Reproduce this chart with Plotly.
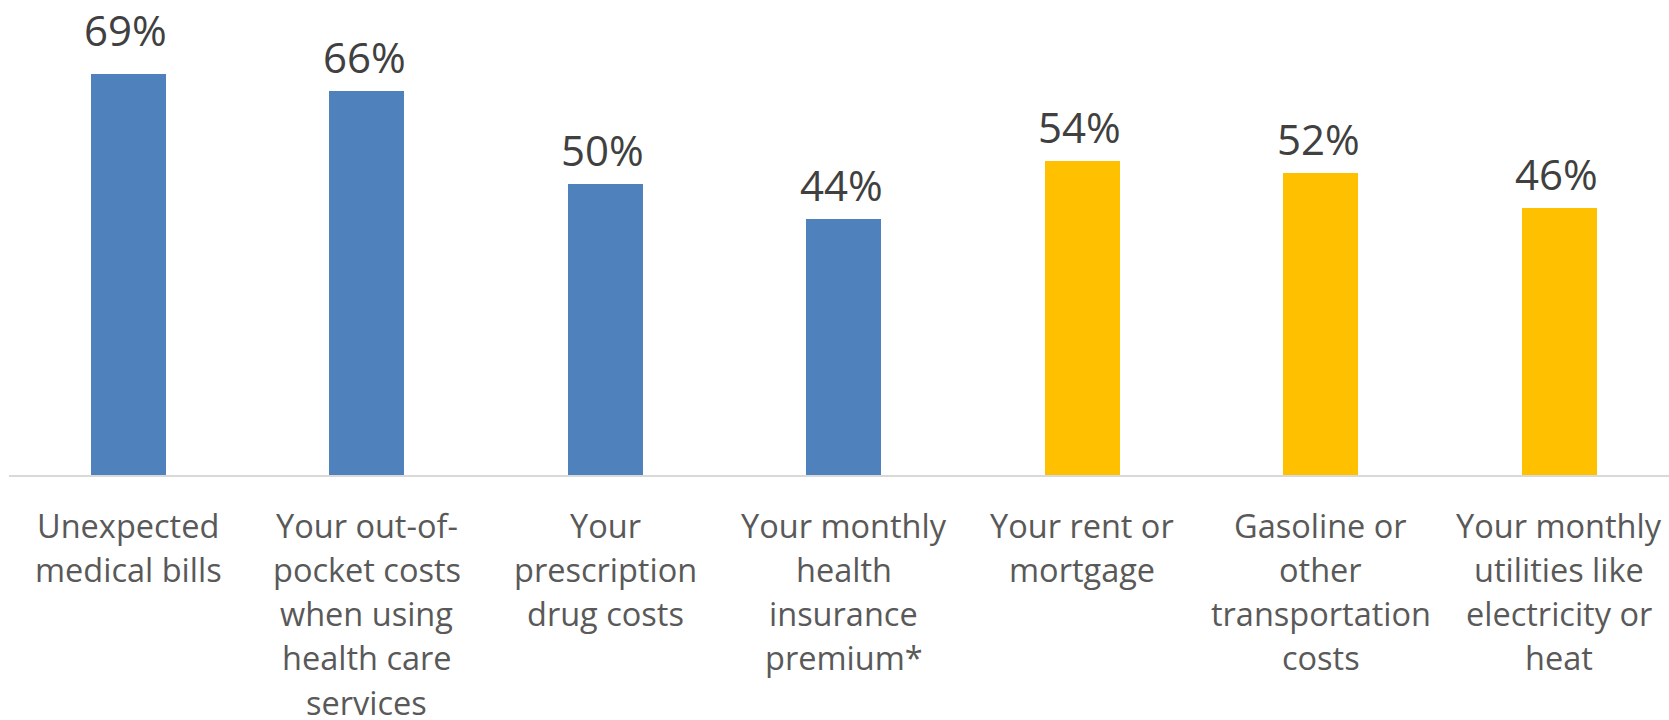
import plotly.graph_objects as go

categories = [
    "Unexpected medical bills",
    "Your out-of-pocket costs when using health care services",
    "Your prescription drug costs",
    "Your monthly health insurance premium*",
    "Your rent or mortgage",
    "Gasoline or other transportation costs",
    "Your monthly utilities like electricity or heat",
]
label_lines = [
    ["Unexpected", "medical bills"],
    ["Your out-of-", "pocket costs", "when using", "health care", "services"],
    ["Your", "prescription", "drug costs"],
    ["Your monthly", "health", "insurance", "premium*"],
    ["Your rent or", "mortgage"],
    ["Gasoline or", "other", "transportation", "costs"],
    ["Your monthly", "utilities like", "electricity or", "heat"],
]
values = [69, 66, 50, 44, 54, 52, 46]
groups = ["health", "health", "health", "health", "other", "other", "other"]

group_colors = {"health": "#4F81BD", "other": "#FFC000"}
colors = [group_colors[g] for g in groups]

FONT = "Open Sans"

fig = go.Figure()
fig.add_trace(go.Bar(
    x=categories,
    y=values,
    marker=dict(color=colors, line=dict(width=0)),
    width=0.313,
    hoverinfo="skip",
))

annotations = []
# data labels (the first label sits a little higher in the original)
for i, (c, v) in enumerate(zip(categories, values)):
    annotations.append(dict(
        x=c, y=v, xref="x", yref="y",
        text=f"{v}%", showarrow=False,
        xanchor="center", yanchor="bottom",
        yshift=14 if i == 0 else 4, xshift=-2.5,
        font=dict(family=FONT, size=42, color="#404040"),
    ))
# category labels, one annotation per line
for c, lines in zip(categories, label_lines):
    for k, ln in enumerate(lines):
        annotations.append(dict(
            x=c, y=0, xref="x", yref="paper",
            text=ln, showarrow=False,
            xanchor="center", yanchor="middle",
            yshift=-(50 + 44.3 * k),
            font=dict(family=FONT, size=32.5, color="#595959"),
        ))

fig.update_layout(
    width=1669, height=720,
    margin=dict(l=9, r=0, t=0, b=244.5),
    paper_bgcolor="white", plot_bgcolor="white",
    showlegend=False,
    bargap=0,
    annotations=annotations,
    xaxis=dict(
        range=[-0.5, 6.46],
        showticklabels=False,
        showline=True, linecolor="#D9D9D9", linewidth=1.5,
        showgrid=False, zeroline=False, ticks="",
        fixedrange=True,
    ),
    yaxis=dict(
        range=[0, 81.7],
        visible=False,
        showgrid=False, zeroline=False,
        fixedrange=True,
    ),
)

fig.write_html("out.html")
